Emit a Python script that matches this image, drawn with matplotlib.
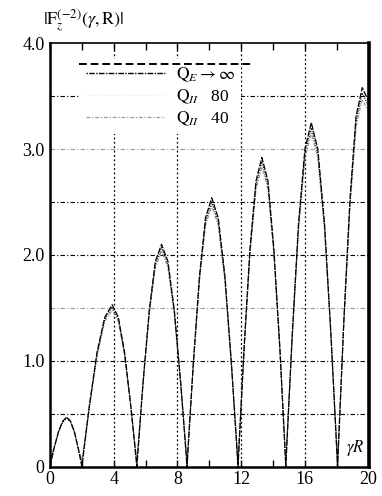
import matplotlib.pyplot as plt
from matplotlib.lines import Line2D

# gamma*R sample positions
gamma_r = [0, 0.26, 0.53, 0.79, 1.05, 1.29, 1.53, 1.76,
           2.0, 2.48, 2.95, 3.43, 3.9, 4.29, 4.68, 5.06,
           5.45, 5.84, 6.23, 6.61, 7.0, 7.4, 7.8, 8.2,
           8.6, 8.99, 9.38, 9.76, 10.15, 10.56, 10.98, 11.39,
           11.8, 12.18, 12.55, 12.93, 13.3, 13.68, 14.05, 14.43,
           14.8, 15.2, 15.6, 16.0, 16.4, 16.81, 17.23, 17.64,
           18.05, 18.44, 18.83, 19.21, 19.6, 20.0]

# |F_z^(-2)| for Q -> inf, Q = 80, Q = 40
f_inf = [0, .18, .33, .43, .47, .43, .33, .18,
         0, .59, 1.08, 1.41, 1.53, 1.41, 1.08, .59,
         0, .80, 1.48, 1.94, 2.10, 1.94, 1.48, .80,
         0, .97, 1.80, 2.35, 2.54, 2.35, 1.80, .97,
         0, 1.12, 2.06, 2.70, 2.92, 2.70, 2.06, 1.12,
         0, 1.24, 2.30, 3.00, 3.25, 3.00, 2.30, 1.24,
         0, 1.37, 2.53, 3.31, 3.58, 3.45]
f_80 = [.03, .18, .33, .42, .46, .42, .33, .18,
        .03, .58, 1.06, 1.39, 1.51, 1.39, 1.06, .58,
        .03, .79, 1.46, 1.91, 2.07, 1.91, 1.46, .79,
        .03, .96, 1.77, 2.31, 2.50, 2.31, 1.77, .96,
        .03, 1.10, 2.03, 2.66, 2.88, 2.66, 2.03, 1.10,
        .03, 1.22, 2.27, 2.96, 3.20, 2.96, 2.27, 1.22,
        .03, 1.35, 2.49, 3.26, 3.53, 3.40]
f_40 = [.06, .18, .32, .42, .46, .42, .32, .18,
        .06, .57, 1.05, 1.37, 1.48, 1.37, 1.05, .57,
        .06, .78, 1.44, 1.88, 2.04, 1.88, 1.44, .78,
        .06, .94, 1.75, 2.28, 2.46, 2.28, 1.75, .94,
        .06, 1.09, 2.00, 2.62, 2.83, 2.62, 2.00, 1.09,
        .06, 1.20, 2.23, 2.91, 3.15, 2.91, 2.23, 1.20,
        .06, 1.33, 2.45, 3.21, 3.47, 3.35]

legend_labels = [r'$\mathrm{Q}_E \rightarrow \infty$', r'$\mathrm{Q}_{II}$   80', r'$\mathrm{Q}_{II}$   40']
x_ticks = [0, 4, 8, 12, 16, 20]
x_minor = [2, 6, 10, 14, 18]
y_ticks = [0, 1, 2, 3, 4]
y_tick_labels = ['0', '1.0', '2.0', '3.0', '4.0']
h_grid = [0.5, 1.0, 1.5, 2.0, 2.5, 3.0, 3.5]
h_grid_colors = ['k', 'k', '0.6', 'k', 'k', '0.6', 'k']
v_grid = [4, 8, 12, 16]

plt.rcParams['font.family'] = 'Liberation Serif'
plt.rcParams['mathtext.fontset'] = 'stix'

fig = plt.figure(figsize=(3.82, 4.96), dpi=100)
ax = fig.add_axes([0.131, 0.059, 0.834, 0.854])

for yv, c in zip(h_grid, h_grid_colors):
    ax.axhline(yv, color=c, ls=(0, (4, 2, 1, 2)), lw=0.8, zorder=1)
for xv in v_grid:
    ax.axvline(xv, color='k', ls=(0, (1.5, 2)), lw=0.9, zorder=1)

ax.plot(gamma_r, f_40, color='0.55', ls=(0, (3, 1.5, 1, 1.5)), lw=0.8, zorder=2)
ax.plot(gamma_r, f_80, color='k', ls=(0, (1, 1.2)), lw=0.8, zorder=3)
ax.plot(gamma_r, f_inf, color='k', ls=(0, (5, 1.2)), lw=0.9, zorder=4)

handles = [Line2D([], [], color='k', ls=(0, (1, 1, 4, 1)), lw=1.0),
           Line2D([], [], color='0.92', ls=':', lw=0.8),
           Line2D([], [], color='0.6', ls=(0, (3, 1.5, 1, 1.5)), lw=0.9)]
leg = ax.legend(handles, legend_labels, loc='upper left', bbox_to_anchor=(0.065, 0.982),
                fontsize=12.5, handlelength=4.6, handletextpad=0.6, labelspacing=0.2,
                borderpad=0.35, frameon=True, fancybox=False, framealpha=1,
                facecolor='white', edgecolor='none')
leg.set_zorder(5)
ax.hlines(3.8, 1.8, 12.6, colors='k', linestyles=(0, (4, 2)), lw=1.4, zorder=6)

ax.set_xlim(0, 20)
ax.set_ylim(0, 4)
ax.set_xticks(x_ticks)
ax.set_xticks(x_minor, minor=True)
ax.set_yticks(y_ticks)
ax.set_yticklabels(y_tick_labels)
ax.tick_params(axis='x', which='both', direction='in', top=True, length=5, width=1, labelsize=13, pad=3)
ax.tick_params(axis='y', length=0, labelsize=13, pad=4)

ax.spines['left'].set_linewidth(1.8)
ax.spines['bottom'].set_linewidth(1.8)
ax.spines['right'].set_linewidth(2.6)
ax.spines['top'].set_linewidth(1.2)

ax.text(19.75, 0.08, r'$\gamma R$', ha='right', va='bottom', fontsize=12)
fig.text(0.112, 0.985, r'$|\mathrm{F}_z^{(-2)}(\gamma,\mathrm{R})|$', ha='left', va='top', fontsize=13)

fig.savefig('out.png', dpi=100)
